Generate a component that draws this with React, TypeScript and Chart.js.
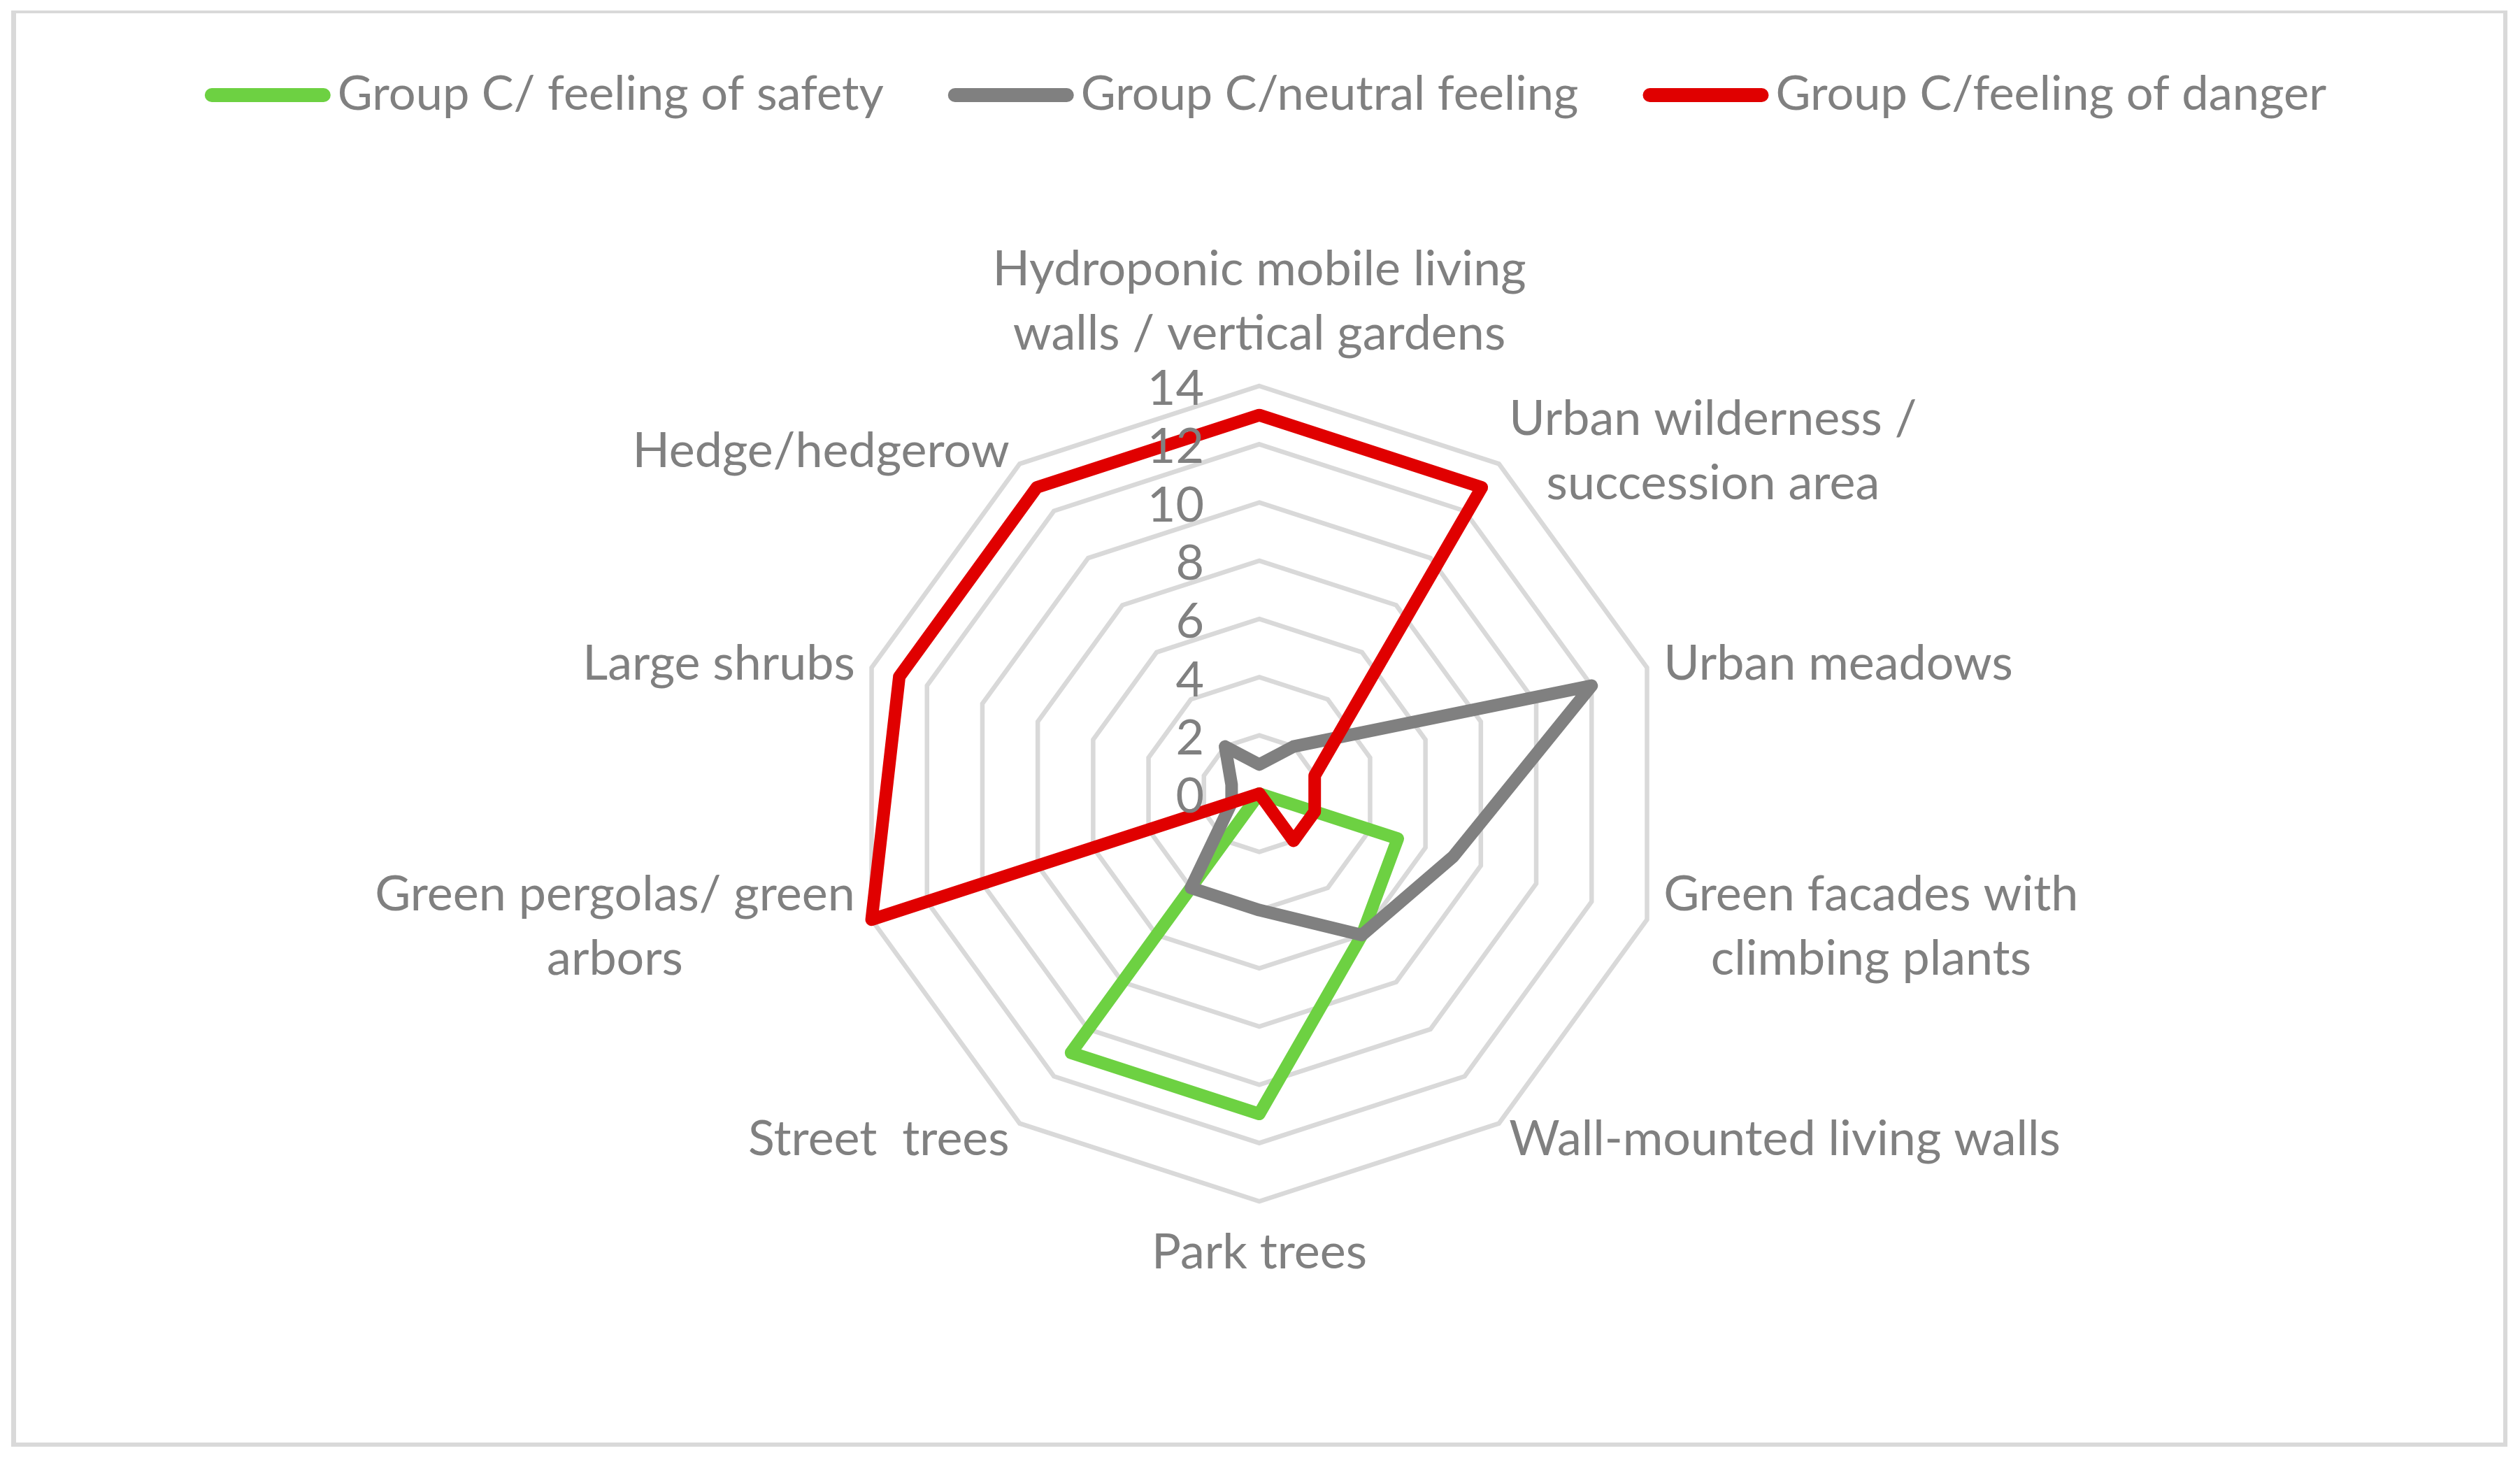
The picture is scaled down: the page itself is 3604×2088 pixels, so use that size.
import React, { useEffect, useRef } from "react";
import { Chart, registerables } from "chart.js";

Chart.register(...registerables);

// ---------- data ----------
const categories: string[][] = [
  ["Hydroponic mobile living", "walls / vertical gardens"],
  ["Urban wilderness /", "succession area"],
  ["Urban meadows"],
  ["Green facades with", "climbing plants"],
  ["Wall-mounted living walls"],
  ["Park trees"],
  ["Street  trees"],
  ["Green pergolas/ green", "arbors"],
  ["Large shrubs"],
  ["Hedge/hedgerow"],
];

const seriesNames = [
  "Group C/ feeling of safety",
  "Group C/neutral feeling",
  "Group C/feeling of danger",
];

const safety = [0, 0, 0, 5, 6, 11, 11, 0, 0, 0];
const neutral = [1, 2, 12, 7, 6, 4, 4, 1, 1, 2];
const danger = [13, 13, 2, 2, 2, 0, 0, 14, 13, 13];

const axisMin = 0;
const axisMax = 14;
const axisStep = 2;

// ---------- style ----------
const COLORS = ["#6dd142", "#808080", "#e00000"];
const TEXT_COLOR = "#808080";
const GRID_COLOR = "#d9d9d9";
const FONT_FAMILY = "Lato";
const FONT_SIZE = 70;
const LEGEND_FONT_SIZE = 68.5;
const LINE_H = 92;
const CAP = FONT_SIZE * 0.72;

const overlayPlugin = {
  id: "overlay",
  afterDraw(chart: any) {
    const ctx: CanvasRenderingContext2D = chart.ctx;
    const scale = chart.scales.r;
    ctx.save();
    ctx.font = `${FONT_SIZE}px ${FONT_FAMILY}`;
    ctx.fillStyle = TEXT_COLOR;

    // tick labels, left of the vertical axis
    ctx.textAlign = "right";
    ctx.textBaseline = "alphabetic";
    scale.ticks.forEach((t: any) => {
      const p = scale.getPointPositionForValue(0, t.value);
      ctx.fillText(String(t.value), p.x - 79, p.y + 2 + CAP / 2);
    });

    // point labels
    const R = scale.drawingArea;
    const labels = chart.data.labels as any[];
    const n = labels.length;
    ctx.textAlign = "center";
    labels.forEach((lab, i) => {
      const lines: string[] = Array.isArray(lab) ? lab : [lab];
      const a = scale.getPointPosition(i, R + 25);
      const ang = (i / n) * Math.PI * 2;
      const s = Math.sin(ang);
      const c = Math.cos(ang);
      const bw = Math.max(...lines.map((l) => ctx.measureText(l).width));
      let cx = a.x;
      if (s > 0.1) cx = a.x + bw / 2;
      else if (s < -0.1) cx = a.x - bw / 2;
      const m = lines.length;
      let first: number;
      if (Math.abs(s) <= 0.1) {
        first = c > 0 ? a.y - 27 - (m - 1) * LINE_H : a.y + 71;
      } else {
        first = a.y - ((m - 1) * LINE_H) / 2 + CAP / 2;
      }
      lines.forEach((l, k) => ctx.fillText(l, cx, first + k * LINE_H));
    });

    // legend
    ctx.font = `${LEGEND_FONT_SIZE}px ${FONT_FAMILY}`;
    const items = chart.data.datasets.map((d: any) => ({
      text: d.label as string,
      color: d.borderColor as string,
    }));
    const SW = 180;
    const GAP = 10;
    const SP = 92;
    const widths = items.map((it: any) => ctx.measureText(it.text).width);
    const total =
      widths.reduce((acc: number, w: number) => acc + SW + GAP + w, 0) +
      SP * (items.length - 1);
    let x = chart.width / 2 + 8 - total / 2;
    const ly = 136;
    ctx.textAlign = "left";
    items.forEach((it: any, k: number) => {
      ctx.strokeStyle = it.color;
      ctx.lineWidth = 20;
      ctx.lineCap = "round";
      ctx.beginPath();
      ctx.moveTo(x + 10, ly);
      ctx.lineTo(x + SW - 10, ly);
      ctx.stroke();
      ctx.fillStyle = TEXT_COLOR;
      ctx.fillText(it.text, x + SW + GAP, 157);
      x += SW + GAP + widths[k] + SP;
    });
    ctx.restore();
  },
};

export default function App() {
  const ref = useRef<HTMLCanvasElement | null>(null);

  useEffect(() => {
    if (!ref.current) return;
    const mk = (label: string, data: number[], color: string, order: number) => ({
      label,
      data,
      borderColor: color,
      backgroundColor: color,
      borderWidth: 18,
      pointRadius: 0,
      pointHoverRadius: 0,
      fill: false,
      tension: 0,
      borderJoinStyle: "round" as const,
      borderCapStyle: "round" as const,
      order,
    });
    const chart = new Chart(ref.current, {
      type: "radar",
      data: {
        labels: categories,
        datasets: [
          mk(seriesNames[0], safety, COLORS[0], 2),
          mk(seriesNames[1], neutral, COLORS[1], 1),
          mk(seriesNames[2], danger, COLORS[2], 0),
        ],
      },
      options: {
        responsive: false,
        animation: false,
        devicePixelRatio: 1,
        events: [],
        layout: { padding: { top: 552, bottom: 370, left: 0, right: 2 } },
        plugins: {
          legend: { display: false },
          tooltip: { enabled: false },
          title: { display: false },
        },
        scales: {
          r: {
            min: axisMin,
            max: axisMax,
            startAngle: 0,
            ticks: { stepSize: axisStep, display: false },
            grid: { color: GRID_COLOR, lineWidth: 6.5, circular: false },
            angleLines: { display: false },
            pointLabels: { display: false },
          },
        },
      },
      plugins: [overlayPlugin],
    });
    return () => chart.destroy();
  }, []);

  return (
    <div
      style={{
        position: "fixed",
        left: 0,
        top: 0,
        width: 3604,
        height: 2088,
        background: "#ffffff",
        overflow: "hidden",
      }}
    >
      <div
        style={{
          position: "absolute",
          left: 16,
          top: 15,
          width: 3570,
          height: 2054,
          boxSizing: "border-box",
          borderStyle: "solid",
          borderColor: GRID_COLOR,
          borderTopWidth: 4,
          borderLeftWidth: 7,
          borderRightWidth: 6,
          borderBottomWidth: 6,
        }}
      />
      <canvas
        ref={ref}
        width={3604}
        height={2088}
        style={{ position: "absolute", left: 0, top: 0, width: 3604, height: 2088 }}
      />
    </div>
  );
}
